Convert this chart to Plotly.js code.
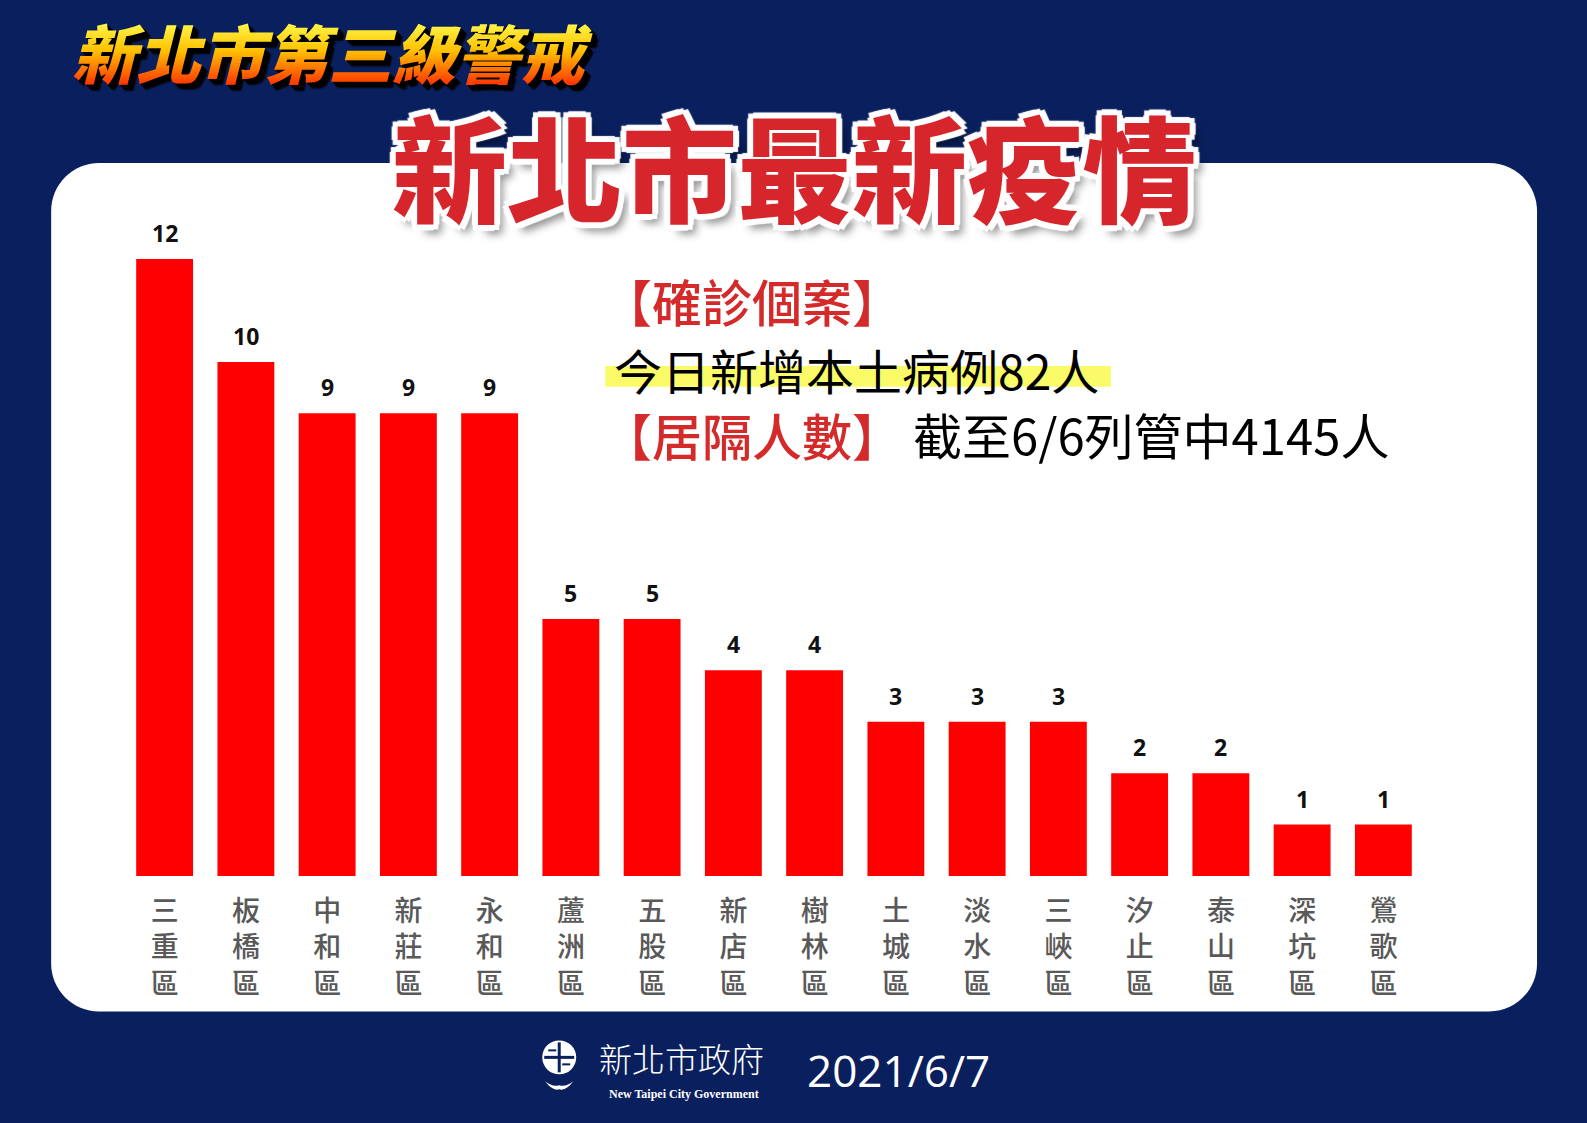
<!DOCTYPE html>
<html>
<head>
<meta charset="utf-8">
<script src="https://cdn.plot.ly/plotly-3.0.1.min.js"></script>
<style>
  html, body { margin: 0; padding: 0; background: #0a205e; }
  #chart { width: 1587px; height: 1123px; }
</style>
</head>
<body>
<div id="chart"></div>
<script>
// ---- data ----
const districts = ["三重區", "板橋區", "中和區", "新莊區", "永和區", "蘆洲區", "五股區", "新店區",
                   "樹林區", "土城區", "淡水區", "三峽區", "汐止區", "泰山區", "深坑區", "鶯歌區"];
const cases = [12, 10, 9, 9, 9, 5, 5, 4, 4, 3, 3, 3, 2, 2, 1, 1];
const tickLabels = districts.map(d => d.split("").join("<br>"));

const headerText = "新北市第三級警戒";
const titleText = "新北市最新疫情";
const confirmedHead = "【確診個案】";
const confirmedText = "今日新增本土病例82人";
const isolationHead = "【居隔人數】";
const isolationText = "截至6/6列管中4145人";
const govName = "新北市政府";
const govNameEn = "New Taipei City Government";
const dateText = "2021/6/7";

// ---- page geometry (pixels) ----
const W = 1587, H = 1123;
const ML = 123.5, MR = 162.7, MT = 200, MB = 246.5;
const PW = W - ML - MR, PH = H - MT - MB;
const px = x => (x - ML) / PW;
const py = y => (H - MB - y) / PH;

function roundRect(x0, y0, x1, y1, r) {
  const k = 0.5523 * r;
  const P = (x, y) => px(x) + "," + py(y);
  return "M" + P(x0 + r, y0) +
    " L" + P(x1 - r, y0) +
    " C" + P(x1 - r + k, y0) + " " + P(x1, y0 + r - k) + " " + P(x1, y0 + r) +
    " L" + P(x1, y1 - r) +
    " C" + P(x1, y1 - r + k) + " " + P(x1 - r + k, y1) + " " + P(x1 - r, y1) +
    " L" + P(x0 + r, y1) +
    " C" + P(x0 + r - k, y1) + " " + P(x0, y1 - r + k) + " " + P(x0, y1 - r) +
    " L" + P(x0, y0 + r) +
    " C" + P(x0, y0 + r - k) + " " + P(x0 + r - k, y0) + " " + P(x0 + r, y0) + " Z";
}

const CJK = "'Noto Sans CJK TC', 'Noto Sans CJK SC', sans-serif";
const LAT = "'Open Sans', 'Noto Sans', sans-serif";

const shapes = [
  { type: "path", xref: "paper", yref: "paper", layer: "below",
    path: roundRect(50.6, 163, 1537.4, 1012, 48),
    fillcolor: "#ffffff", line: { width: 0 } },
  // yellow highlight behind the daily case line
  { type: "rect", xref: "paper", yref: "paper", layer: "below",
    x0: px(605), x1: px(1111), y0: py(387), y1: py(366),
    fillcolor: "#fbfb6a", line: { width: 0 } },
  // simple logo
  { type: "circle", xref: "paper", yref: "paper",
    x0: px(542), x1: px(576), y0: py(1075), y1: py(1041),
    fillcolor: "#ffffff", line: { width: 0 } },
  { type: "line", xref: "paper", yref: "paper",
    x0: px(559), x1: px(559), y0: py(1043), y1: py(1073), line: { color: "#0a205e", width: 3 } },
  { type: "line", xref: "paper", yref: "paper",
    x0: px(544), x1: px(574), y0: py(1058), y1: py(1058), line: { color: "#0a205e", width: 3 } },
  { type: "line", xref: "paper", yref: "paper",
    x0: px(548), x1: px(556), y0: py(1051), y1: py(1051), line: { color: "#0a205e", width: 2 } },
  { type: "line", xref: "paper", yref: "paper",
    x0: px(562), x1: px(570), y0: py(1065), y1: py(1065), line: { color: "#0a205e", width: 2 } },
  { type: "path", xref: "paper", yref: "paper",
    path: "M" + px(545) + "," + py(1082) + " Q" + px(552) + "," + py(1092) + " " + px(559) + "," + py(1090) +
          " Q" + px(566) + "," + py(1092) + " " + px(573) + "," + py(1082) +
          " Q" + px(566) + "," + py(1088) + " " + px(559) + "," + py(1086) +
          " Q" + px(552) + "," + py(1088) + " " + px(545) + "," + py(1082) + " Z",
    fillcolor: "#ffffff", line: { width: 0 } }
];

const whiteOutline = [
  "4px 0 0 #fff", "-4px 0 0 #fff", "0 4px 0 #fff", "0 -4px 0 #fff",
  "3px 3px 0 #fff", "-3px -3px 0 #fff", "3px -3px 0 #fff", "-3px 3px 0 #fff",
  "6px 0 1px #fff", "-6px 0 1px #fff", "0 6px 1px #fff", "0 -6px 1px #fff",
  "5px 5px 1px #fff", "-5px -5px 1px #fff", "5px -5px 1px #fff", "-5px 5px 1px #fff",
  "8px 9px 8px rgba(0,0,0,0.45)"
].join(", ");

const annotations = [
  { xref: "paper", yref: "paper", x: px(332), y: py(51), xanchor: "center", yanchor: "middle",
    text: headerText, showarrow: false,
    font: { family: CJK, size: 64, color: "#ffa000", weight: 900, style: "italic",
            shadow: "2px 2px 0 #000, 3px 3px 0 #000, 4px 4px 0 #000, 5px 5px 1px #000, 6px 6px 2px #000" } },
  { xref: "paper", yref: "paper", x: px(794), y: py(164), xanchor: "center", yanchor: "middle",
    text: titleText, showarrow: false,
    font: { family: CJK, size: 115, color: "#d6262c", weight: 900, shadow: whiteOutline } },
  { xref: "paper", yref: "paper", x: px(600), y: py(300), xanchor: "left", yanchor: "middle",
    text: confirmedHead, showarrow: false,
    font: { family: CJK, size: 50, color: "#d42a2a", weight: 500 } },
  { xref: "paper", yref: "paper", x: px(612), y: py(369), xanchor: "left", yanchor: "middle",
    text: confirmedText, showarrow: false,
    font: { family: CJK, size: 48, color: "#000000", weight: 400 } },
  { xref: "paper", yref: "paper", x: px(600), y: py(434), xanchor: "left", yanchor: "middle",
    text: isolationHead, showarrow: false,
    font: { family: CJK, size: 50, color: "#d42a2a", weight: 500 } },
  { xref: "paper", yref: "paper", x: px(911), y: py(434), xanchor: "left", yanchor: "middle",
    text: isolationText, showarrow: false,
    font: { family: CJK, size: 49, color: "#000000", weight: 400 } },
  { xref: "paper", yref: "paper", x: px(681), y: py(1059), xanchor: "center", yanchor: "middle",
    text: govName, showarrow: false,
    font: { family: CJK, size: 33, color: "#ffffff", weight: 300 } },
  { xref: "paper", yref: "paper", x: px(684), y: py(1095), xanchor: "center", yanchor: "middle",
    text: govNameEn, showarrow: false,
    font: { family: "'Liberation Serif', serif", size: 12, color: "#ffffff", weight: 700 } },
  { xref: "paper", yref: "paper", x: px(898), y: py(1071), xanchor: "center", yanchor: "middle",
    text: dateText, showarrow: false,
    font: { family: LAT, size: 44, color: "#ffffff" } }
];

// value labels above each bar
districts.forEach((d, i) => {
  annotations.push({
    x: d, y: cases[i], xref: "x", yref: "y", xanchor: "center", yanchor: "bottom",
    yshift: 8, text: String(cases[i]), showarrow: false,
    font: { family: LAT, size: 23, color: "#111111", weight: 700 }
  });
});

const trace = {
  type: "bar",
  x: districts,
  y: cases,
  marker: { color: "#ff0000", line: { width: 0 } },
  hoverinfo: "x+y"
};

const layout = {
  width: W, height: H,
  margin: { l: ML, r: MR, t: MT, b: MB, pad: 0 },
  paper_bgcolor: "#0a205e",
  plot_bgcolor: "rgba(0,0,0,0)",
  showlegend: false,
  bargap: 0.3,
  xaxis: {
    type: "category",
    tickmode: "array", tickvals: districts, ticktext: tickLabels,
    range: [-0.5, districts.length - 0.5],
    showgrid: false, zeroline: false, showline: false, ticks: "",
    ticklabelstandoff: 16,
    tickfont: { family: CJK, size: 28, color: "#595959", weight: 500 },
    fixedrange: true
  },
  yaxis: {
    range: [0, PH / 51.45],
    visible: false, showgrid: false, zeroline: false, fixedrange: true
  },
  shapes: shapes,
  annotations: annotations
};

Plotly.newPlot("chart", [trace], layout, { displayModeBar: false, staticPlot: true }).then(gd => {
  // vertical yellow-to-red gradient fill on the header text
  const svg = gd.querySelector("svg.main-svg");
  const NS = "http://www.w3.org/2000/svg";
  let defs = svg.querySelector("defs");
  if (!defs) { defs = document.createElementNS(NS, "defs"); svg.insertBefore(defs, svg.firstChild); }
  const grad = document.createElementNS(NS, "linearGradient");
  grad.setAttribute("id", "hdrGrad");
  grad.setAttribute("x1", "0"); grad.setAttribute("y1", "0");
  grad.setAttribute("x2", "0"); grad.setAttribute("y2", "1");
  [["0.15", "#ffff55"], ["0.5", "#ffc000"], ["0.85", "#ff3a00"]].forEach(([o, c]) => {
    const s = document.createElementNS(NS, "stop");
    s.setAttribute("offset", o); s.setAttribute("stop-color", c);
    grad.appendChild(s);
  });
  defs.appendChild(grad);
  gd.querySelectorAll("text.annotation-text").forEach(t => {
    if (t.textContent === headerText) t.style.fill = "url(#hdrGrad)";
  });
});
</script>
</body>
</html>
